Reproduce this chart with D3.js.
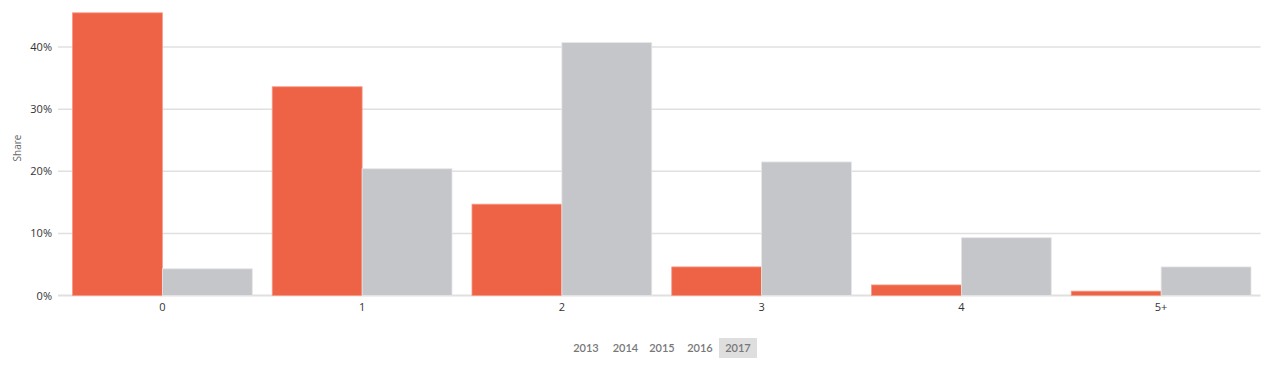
<!DOCTYPE html>
<html><head><meta charset="utf-8">
<script src="https://cdn.jsdelivr.net/npm/d3@7"></script>
<style>body{margin:0;background:#fff;font-family:"Open Sans",sans-serif;}</style>
</head><body><svg id="c" width="1266" height="366"></svg>
<script>
const categories = ["0","1","2","3","4","5+"];
const seriesRed = [45.5, 33.6, 14.7, 4.6, 1.7, 0.7];
const seriesGray = [4.3, 20.4, 40.7, 21.5, 9.3, 4.6];
const yTicks = [0, 10, 20, 30, 40];
const years = ["2013","2014","2015","2016","2017"];
const activeYear = "2017";

const svg = d3.select("#c");
const x = d3.scaleBand().domain(categories).range([62.5, 1261]).paddingInner(0.1).paddingOuter(0.05);
const y = d3.scaleLinear().domain([0, 40]).range([295.5, 47]);

// grid
svg.append("g").selectAll("line").data(yTicks).join("line")
  .attr("x1", 58).attr("x2", 1260.5).attr("y1", d => y(d)).attr("y2", d => y(d))
  .attr("stroke", "#e0e0e0").attr("stroke-width", d => d === 0 ? 2 : 1.5);

const yAxis = d3.axisLeft(y).tickValues(yTicks).tickFormat(d => d + "%").tickSize(0).tickPadding(6);
const ga = svg.append("g").attr("transform", "translate(58,0)").call(yAxis);
ga.select(".domain").remove();
ga.selectAll("text").attr("font-size", 11).attr("fill", "#333").attr("font-family", "Open Sans, sans-serif");

svg.append("text").attr("transform", "translate(21,148) rotate(-90)").attr("text-anchor", "middle")
  .attr("font-size", 10).attr("fill", "#666").text("Share");

const bw = x.bandwidth() / 2;
const g = svg.append("g");
g.selectAll(".r").data(categories).join("rect")
  .attr("x", d => x(d)).attr("width", bw)
  .attr("y", (d, i) => y(seriesRed[i])).attr("height", (d, i) => y(0) - y(seriesRed[i]))
  .attr("fill", "#ee6246").attr("stroke", "#f59a87").attr("stroke-width", 0.8);
g.selectAll(".g").data(categories).join("rect")
  .attr("x", d => x(d) + bw).attr("width", bw)
  .attr("y", (d, i) => y(seriesGray[i])).attr("height", (d, i) => y(0) - y(seriesGray[i]))
  .attr("fill", "#c5c6c9").attr("stroke", "#e6e6e8").attr("stroke-width", 0.8);

const xAxis = d3.axisBottom(x).tickSize(0).tickPadding(8);
const gx = svg.append("g").attr("transform", "translate(0,295.5)").call(xAxis);
gx.select(".domain").remove();
gx.selectAll("text").attr("font-size", 11).attr("fill", "#333").attr("font-family", "Open Sans, sans-serif");

// legend
const lx = [586, 625.5, 662, 700, 738];
const lg = svg.append("g");
years.forEach((yr, i) => {
  if (yr === activeYear) lg.append("rect").attr("x", lx[i] - 19).attr("y", 338).attr("width", 38).attr("height", 20).attr("fill", "#dedede");
  lg.append("text").attr("x", lx[i]).attr("y", 352).attr("text-anchor", "middle")
    .attr("font-size", 11).attr("font-weight", 600).attr("fill", "#777").attr("font-family", "Lato, sans-serif").text(yr);
});
</script></body></html>
